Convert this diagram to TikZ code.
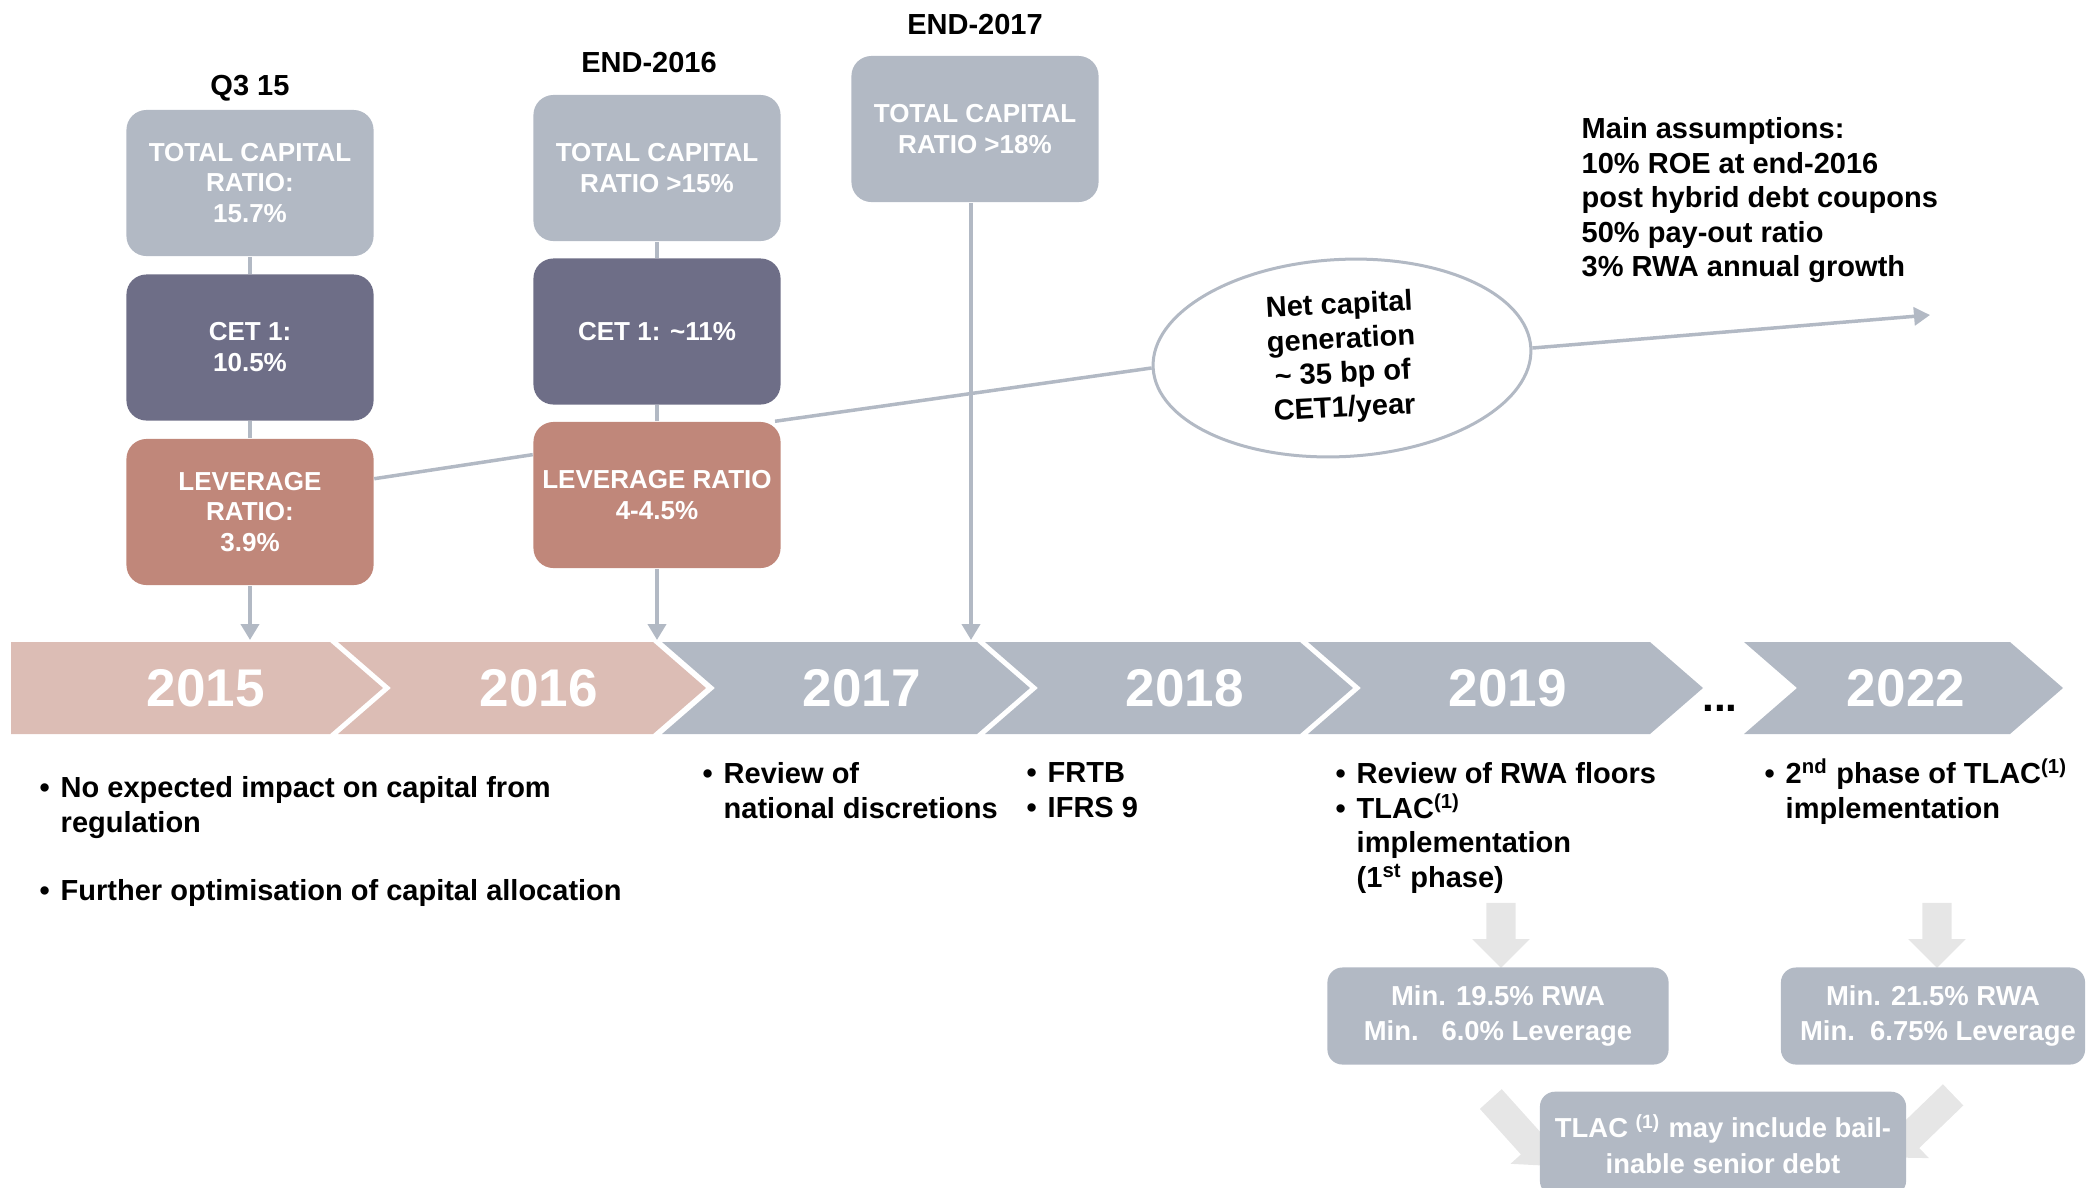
\documentclass[tikz,border=0pt]{standalone}
\usepackage{fontspec}
\setmainfont{Liberation Sans}
\usepackage{tikz}
\usetikzlibrary{arrows.meta}
\usetikzlibrary{positioning}
\usetikzlibrary{shapes.arrows}
\usetikzlibrary{shapes.geometric}

\definecolor{capgrey}{HTML}{B2B9C4}
\definecolor{cetblue}{HTML}{6E6E87}
\definecolor{levred}{HTML}{C0877A}
\definecolor{yrpink}{HTML}{DCBDB5}
\definecolor{pale}{HTML}{E6E6E6}

\newcommand*\boxfont{\bfseries\fontsize{7.4}{8.8}\selectfont}
\newcommand*\yearfont{\bfseries\fontsize{15.1}{18}\selectfont}
\newcommand*\notefont{\bfseries\fontsize{8.25}{9.8}\selectfont}
\newcommand*\minfont{\bfseries\fontsize{7.8}{10}\selectfont}
\newcommand*\bulpt{\makebox[0.21cm][l]{\textbullet}}
\newcommand*\bulind{\hspace*{0.21cm}}
\newcommand*\sups[1]{\smash{\textsuperscript{#1}}}

\tikzset{
    ratio/.style = {rounded corners=0.2cm,minimum width=2.47cm,minimum height=1.46cm,inner sep=0,text=white,align=center,font=\boxfont},
    tcbox/.style = {ratio,fill=capgrey},
    cetbox/.style = {ratio,fill=cetblue},
    levbox/.style = {ratio,fill=levred},
    datelbl/.style = {inner sep=0,font=\notefont},
    note/.style = {inner sep=0,align=left,anchor=north west,font=\notefont},
    yearlbl/.style = {inner sep=0,text=white,font=\yearfont}
}
\tikzset{
    stem/.style = {draw=capgrey,line width=0.04cm},
    capline/.style = {draw=capgrey,line width=0.035cm},
    tip/.style = {-{Triangle[length=0.16cm,width=0.18cm]}},
    ncgell/.style = {ellipse,draw=capgrey,line width=0.03cm,fill=white,minimum width=3.78cm,minimum height=1.97cm,inner sep=0,align=center,font=\notefont},
    bigarrow/.style = {single arrow,fill=pale,inner xsep=0,inner ysep=0.14cm,minimum height=0.65cm,single arrow head extend=0.14cm},
    minbox/.style = {rounded corners=0.15cm,fill=capgrey,minimum height=0.97cm,inner sep=0,text=white,align=center,font=\minfont}
}

\begin{document}
\begin{tikzpicture}[x=0.01cm,y=-0.01cm]
        \clip (0,0) rectangle (2087,1187);
        \coordinate (bandtop) at (0,640);
        % Timeline
        \fill[yrpink] (11,642) -- (330,642) -- ++(53,46) -- (330,734) -- (11,734) -- cycle;
        \foreach \l/\r/\col in {338/653/yrpink,662/977/capgrey,985/1300/capgrey,1308/1650/capgrey,1744/2010/capgrey}
            \fill[\col] (\l,642) -- (\r,642) -- ++(53,46) -- (\r,734) -- (\l,734) -- ++(53,-46) -- cycle;
        \foreach \x/\yr in {206/2015,539/2016,862/2017,1185/2018,1508/2019,1906/2022}
            \node[yearlbl] (y\yr) at (\x,688) {\yr};
        \node[inner sep=0,font=\bfseries\fontsize{12}{14}\selectfont,anchor=base] (dots) at (1720,711) {...};
        % Q3 15
        \node[tcbox] (tc1) at (250,183) {TOTAL CAPITAL\\RATIO:\\15.7\%};
        \node[cetbox,below=0.17cm of tc1] (cet1) {CET 1:\\10.5\%};
        \node[levbox,below=0.17cm of cet1] (lev1) {LEVERAGE\\RATIO:\\3.9\%};
        \node[datelbl,above=0.07cm of tc1] (q315) {Q3 15};
        % End-2016
        \node[tcbox] (tc2) at (657,168) {TOTAL CAPITAL\\RATIO >15\%};
        \node[cetbox,below=0.16cm of tc2] (cet2) {CET 1: \textasciitilde11\%};
        \node[levbox,below=0.16cm of cet2] (lev2) {LEVERAGE RATIO\\4-4.5\%};
        \node[datelbl,above=0.21cm of tc2,xshift=-0.08cm] (end16) {END-2016};
        % End-2017
        \node[tcbox] (tc3) at (975,129) {TOTAL CAPITAL\\RATIO >18\%};
        \node[datelbl,above=0.2cm of tc3] (end17) {END-2017};
        % Stems down to the timeline
        \foreach \src/\dest in {tc1/cet1,cet1/lev1,tc2/cet2,cet2/lev2}
            \draw[stem] (\src) to (\dest);
        \foreach \src in {lev1,lev2}
            \draw[stem,tip] (\src) to (\src |- bandtop);
        \draw[stem,tip] ([xshift=-0.04cm]tc3.south) to ([xshift=-0.04cm]tc3.south |- bandtop);
        % Capital generation
        \node[ncgell,rotate=3] (ncg) at (1342,358) {Net capital\\generation\\\textasciitilde{} 35 bp of\\CET1/year};
        \coordinate (capend) at (1930,315);
        \draw[capline] (lev1.15) to (lev2.162);
        \draw[capline] (lev2.32) to (ncg.180);
        \draw[capline,tip] (ncg.0) to (capend);
        \node[note] (assume) at (1581,117) {Main assumptions:\\10\% ROE at end-2016\\post hybrid debt coupons\\50\% pay-out ratio\\3\% RWA annual growth};
        % Regulation
        \node[note] (reg15) at (39,776) {\bulpt No expected impact on capital from\\\bulind regulation};
        \node[note] (opt15) at (39,879) {\bulpt Further optimisation of capital allocation};
        \node[note] (reg17) at (702,762) {\bulpt Review of\\\bulind national discretions};
        \node[note] (reg18) at (1026,762) {\bulpt FRTB\\\bulpt IFRS 9};
        \node[note] (reg19) at (1335,762) {\bulpt Review of RWA floors\\\bulpt TLAC\sups{(1)}\\\bulind implementation\\\bulind (1\sups{st} phase)};
        \node[note] (reg22) at (1764,762) {\bulpt 2\sups{nd} phase of TLAC\sups{(1)}\\\bulind implementation};
        % Requirements
        \node[bigarrow,rotate=-90] (dn19) at (1501,928) {};
        \node[bigarrow,rotate=-90] (dn22) at (1937,928) {};
        \node[minbox,minimum width=3.41cm] (min19) at (1498,1016) {Min. 19.5\% RWA\\Min.\ \ \ 6.0\% Leverage};
        \node[minbox,minimum width=3.04cm] (min22) at (1933,1016) {Min. 21.5\% RWA\\\hspace*{0.1cm}Min.\ \ 6.75\% Leverage};
        \node[bigarrow,rotate=-48,minimum height=0.9cm] (dg19) at (1516,1127) {};
        \node[bigarrow,rotate=-136,minimum height=0.9cm] (dg22) at (1926,1121) {};
        \node[minbox,minimum width=3.66cm,minimum height=1.04cm,anchor=north] (tlac) at (1723,1091) {TLAC \textsuperscript{(1)} may include bail-\\inable senior debt};
\end{tikzpicture}
\end{document}
